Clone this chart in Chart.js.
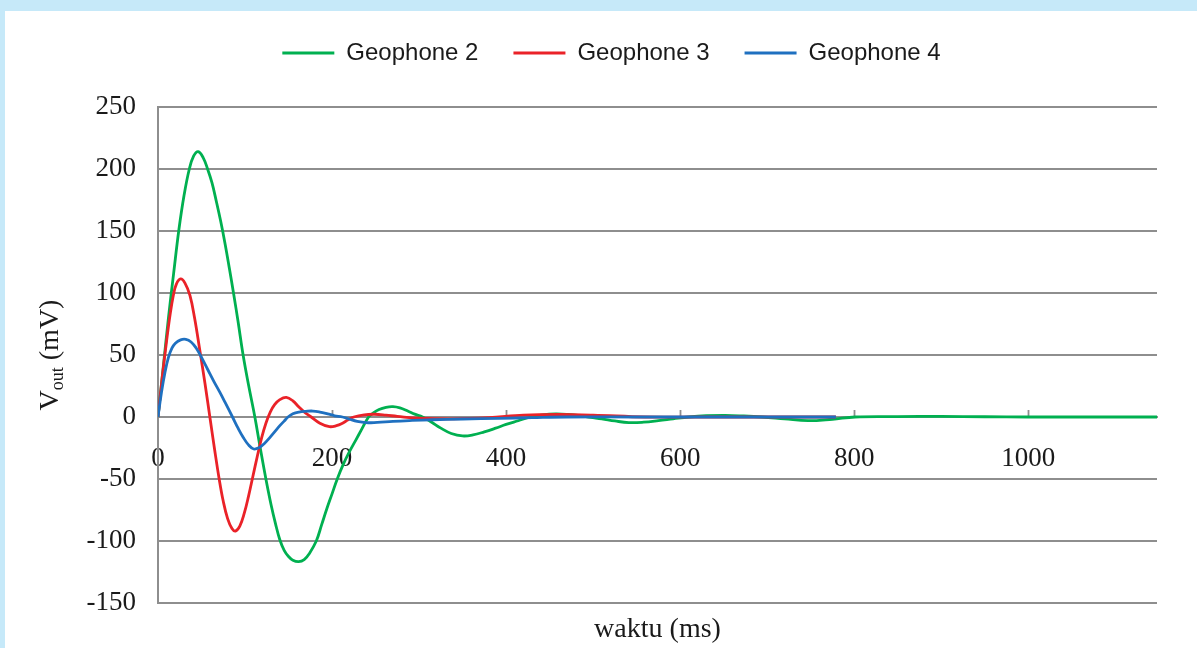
<!DOCTYPE html>
<html>
<head>
<meta charset="utf-8">
<title>Geophone output</title>
<script src="https://cdn.jsdelivr.net/npm/chart.js@4.4.1/dist/chart.umd.min.js"></script>
<style>
  html, body { margin: 0; padding: 0; background: #c6e9f9; }
  #frame { position: absolute; left: 0; top: 0; width: 1197px; height: 648px; }
</style>
</head>
<body>
<div id="frame"><canvas id="chart" width="1197" height="648"></canvas></div>
<script>
// Output voltage (mV) of each geophone against time (ms)
const seriesNames = ['Geophone 2', 'Geophone 3', 'Geophone 4'];
const seriesColors = ['#00b050', '#ea2228', '#1f70c0'];

const timeGeophone2 = [0, 6, 12, 18, 24, 30, 36, 41, 46.2, 52, 57, 62, 67, 72, 77, 82, 87, 92, 97.8, 104, 111.3,
  117.5, 124, 130, 135, 140, 145, 150, 155, 161.6, 168, 174, 181.9, 188, 194, 200, 206, 213, 220, 227, 234,
  242, 247, 254, 262, 270, 278, 287, 295, 304, 314, 325, 337, 350, 362, 375, 388, 400, 414, 428, 442, 457,
  471, 485, 497, 510, 525, 541, 558, 575, 592, 610, 630, 652, 673, 694, 720, 747, 775, 801, 850, 900, 950,
  1000, 1050, 1100, 1148];
const voltGeophone2 = [0, 40, 80, 116, 151, 179, 200, 210.5, 214, 209, 200, 189, 174, 158, 140, 120, 99, 77, 50, 26, 0,
  -25, -50, -71, -86, -99, -107.5, -112.5, -115.5, -116.7, -115, -110, -100, -87, -74, -62, -50, -38, -28, -19, -10,
  0, 3, 6, 7.8, 8.3, 7.3, 4.8, 2.3, 0, -4, -9, -13.3, -15.3, -14.5, -12, -9, -6, -3, 0, 1.7, 2.4,
  2, 1, -0.3, -1.5, -3.2, -4.5, -4.2, -3, -1.5, 0, 1, 1.3, 0.8, 0, -1.5, -3, -1.8, 0, 0.3, 0.5, 0.2,
  0, 0, 0, 0];

const timeGeophone3 = [0, 5, 10, 14, 17.6, 21, 26, 31, 36.7, 42, 48, 54, 59.6, 65, 70.3, 75, 80, 85, 89, 94, 99,
  104, 109, 114, 119, 124, 129, 134, 140, 147.5, 155, 162, 169, 176, 186, 197, 205, 212, 218, 225, 237, 249,
  262, 275, 300, 340, 380, 420, 460, 500, 560, 620, 700, 779];
const voltGeophone3 = [0, 33, 62, 83, 98, 107, 111.3, 108, 98, 80, 54, 27, 0, -26, -50, -68, -82, -90, -92, -88, -78,
  -64, -48, -32, -17, -5, 4, 10, 14, 15.8, 13, 8, 3.5, 0, -5, -7.8, -7, -5, -2.5, 0, 1.8, 2.2,
  1.5, 0.5, -1, -1.5, -0.5, 1.5, 2, 1.5, 0, 0, 0, 0];

const timeGeophone4 = [0, 4, 8, 12, 16, 20, 26, 32, 38, 44, 50, 57, 64, 71, 78, 85.6, 92, 98, 104, 110, 116, 122,
  128, 134, 140, 145, 149.4, 155, 162, 170, 178, 186, 195, 203, 212, 220, 229, 239, 252, 270, 292, 315, 350,
  392, 430, 469, 550, 650, 779];
const voltGeophone4 = [0, 20, 36, 48, 55.5, 59.5, 62.2, 62.6, 60.5, 55.5, 48, 38.5, 29, 20, 10.5, 0, -9, -16.5, -22.5, -25.8, -24.8, -21.5,
  -17, -12, -7, -3.3, 0, 2.6, 4, 4.6, 4.8, 4, 2.5, 1, 0, -1.8, -3.6, -4.6, -4.3, -3.5, -2.8, -2.2, -1.6,
  -1.1, -0.5, 0, 0, 0, 0];

const xTickStep = 200;
const xMax = 1148;
const yMin = -150, yMax = 250, yStep = 50;

const serifFont = "'Liberation Serif', 'Times New Roman', serif";
const sansFont = "'Liberation Sans', Arial, sans-serif";
const gridGray = '#8e8e8e';

function toPoints(times, volts) {
  return times.map((t, i) => ({ x: t, y: volts[i] }));
}

const seriesData = [
  toPoints(timeGeophone2, voltGeophone2),
  toPoints(timeGeophone3, voltGeophone3),
  toPoints(timeGeophone4, voltGeophone4)
];

// page background with the white panel
const panelBackground = {
  id: 'panelBackground',
  beforeDraw(chart) {
    const ctx = chart.ctx;
    ctx.save();
    ctx.fillStyle = '#c6e9f9';
    ctx.fillRect(0, 0, chart.width, chart.height);
    ctx.fillStyle = '#ffffff';
    ctx.fillRect(5, 11, chart.width - 5, chart.height - 11);
    ctx.restore();
  }
};

// extra room between the legend row and the plot
const legendGap = {
  id: 'legendGap',
  beforeInit(chart) {
    Chart.layouts.addBox(chart, {
      position: 'top', weight: 500, fullSize: true, options: {},
      left: 0, top: 0, right: 0, bottom: 0, width: 0, height: 0,
      isHorizontal() { return true; },
      update(maxWidth) { this.width = maxWidth; this.height = 32; },
      draw() {}
    });
  }
};

// short upward tick marks on the zero axis, plus the axis titles
const axisDecor = {
  id: 'axisDecor',
  beforeDatasetsDraw(chart) {
    const ctx = chart.ctx;
    const xs = chart.scales.x, ys = chart.scales.y;
    const y0 = ys.getPixelForValue(0);
    ctx.save();
    ctx.strokeStyle = gridGray;
    ctx.lineWidth = 1.8;
    xs.ticks.forEach(t => {
      if (t.value === 0) return;
      const px = Math.round(xs.getPixelForValue(t.value)) + 0.5;
      ctx.beginPath();
      ctx.moveTo(px, y0);
      ctx.lineTo(px, y0 - 7);
      ctx.stroke();
    });
    ctx.restore();
  },
  afterDraw(chart) {
    const ctx = chart.ctx;
    const area = chart.chartArea;
    ctx.save();
    ctx.fillStyle = '#1a1a1a';
    // x title
    ctx.font = '28px ' + serifFont;
    ctx.textAlign = 'center';
    ctx.textBaseline = 'alphabetic';
    ctx.fillText('waktu (ms)', (area.left + area.right) / 2, 637);
    // y title, rotated, with subscript
    const big = '28px ' + serifFont, small = '18px ' + serifFont;
    ctx.font = big; const wV = ctx.measureText('V').width; const wRest = ctx.measureText(' (mV)').width;
    ctx.font = small; const wSub = ctx.measureText('out').width;
    const total = wV + wSub + wRest;
    ctx.translate(58, (area.top + area.bottom) / 2);
    ctx.rotate(-Math.PI / 2);
    ctx.textAlign = 'left';
    let cx = -total / 2;
    ctx.font = big; ctx.fillText('V', cx, 0); cx += wV;
    ctx.font = small; ctx.fillText('out', cx, 5); cx += wSub;
    ctx.font = big; ctx.fillText(' (mV)', cx, 0);
    ctx.restore();
  }
};

const chart = new Chart(document.getElementById('chart'), {
  type: 'line',
  data: {
    datasets: seriesNames.map((name, i) => ({
      label: name,
      data: seriesData[i],
      borderColor: seriesColors[i],
      backgroundColor: seriesColors[i],
      borderWidth: 2.8,
      pointRadius: 0,
      tension: 0.4,
      order: 3 - i
    }))
  },
  options: {
    responsive: false,
    animation: false,
    devicePixelRatio: 1,
    layout: { padding: { left: 66, right: 40, top: 6, bottom: 45 } },
    plugins: {
      legend: {
        position: 'top',
        labels: {
          boxWidth: 52,
          boxHeight: 3,
          padding: 35,
          color: '#1a1a1a',
          font: { family: sansFont, size: 24 },
          generateLabels(chart) {
            return chart.data.datasets.map((ds, i) => ({
              text: ds.label,
              fillStyle: ds.borderColor,
              strokeStyle: ds.borderColor,
              lineWidth: 0,
              hidden: false,
              datasetIndex: i,
              fontColor: '#1a1a1a'
            }));
          }
        }
      },
      tooltip: { enabled: false }
    },
    scales: {
      x: {
        type: 'linear',
        position: { y: 0 },
        min: 0,
        max: xMax,
        grid: { display: false, drawTicks: false },
        border: { display: true, color: gridGray, width: 2 },
        ticks: {
          stepSize: xTickStep,
          includeBounds: false,
          padding: 26,
          color: '#1a1a1a',
          font: { family: serifFont, size: 27 },
          callback: v => String(v)
        }
      },
      y: {
        type: 'linear',
        min: yMin,
        max: yMax,
        afterFit(scale) { scale.width = 92; },
        grid: { color: gridGray, lineWidth: 2, drawTicks: false },
        border: { display: true, color: gridGray, width: 2 },
        ticks: {
          stepSize: yStep,
          padding: 22,
          color: '#1a1a1a',
          font: { family: serifFont, size: 27 }
        }
      }
    }
  },
  plugins: [panelBackground, legendGap, axisDecor]
});
</script>
</body>
</html>
